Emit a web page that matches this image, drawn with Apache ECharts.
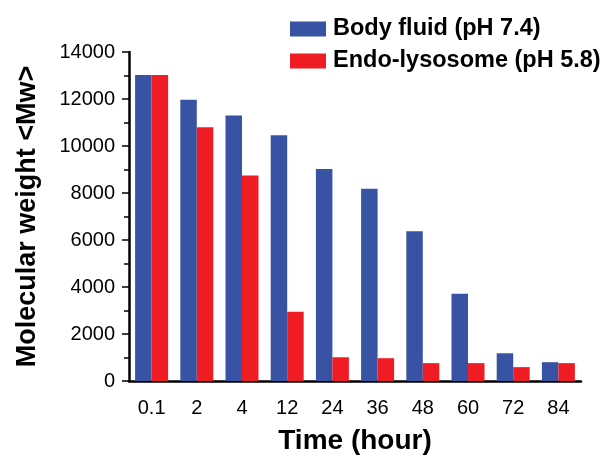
<!DOCTYPE html>
<html>
<head>
<meta charset="utf-8">
<script src="https://cdn.jsdelivr.net/npm/echarts@6/dist/echarts.min.js"></script>
<style>html,body{margin:0;padding:0;background:#fff}#c{width:606px;height:460px}</style>
</head>
<body>
<div id="c"></div>
<script>
var categories = ['0.1','2','4','12','24','36','48','60','72','84'];
var bodyFluid = [13020, 11970, 11300, 10460, 9020, 8180, 6370, 3710, 1180, 800];
var endoLysosome = [13020, 10800, 8740, 2950, 1010, 970, 760, 760, 590, 760];
var seriesNames = ['Body fluid (pH 7.4)', 'Endo-lysosome (pH 5.8)'];
var yTicks = {min: 0, max: 14000, interval: 2000};

var chart = echarts.init(document.getElementById('c'));
var font = 'Liberation Sans, Arial, sans-serif';
chart.setOption({
  animation: false,
  backgroundColor: '#fff',
  legend: {
    orient: 'vertical', left: 285, top: 12,
    itemWidth: 36, itemHeight: 15, itemGap: 8,
    icon: 'rect',
    textStyle: {fontFamily: font, fontWeight: 'bold', fontSize: 23.5, lineHeight: 23, color: '#000', padding: [0,0,0,2]},
    data: seriesNames
  },
  grid: {left: 129, right: 25, top: 52, bottom: 76},
  xAxis: {
    type: 'category', data: categories,
    name: 'Time (hour)', nameLocation: 'middle', nameGap: 46,
    nameTextStyle: {fontFamily: font, fontWeight: 'bold', fontSize: 28, color: '#000'},
    axisLine: {lineStyle: {color: '#000', width: 2.5}},
    axisTick: {alignWithLabel: true, length: 7, lineStyle: {color: '#000', width: 1.5}},
    axisLabel: {fontFamily: font, fontSize: 20, color: '#000', margin: 17}
  },
  yAxis: {
    type: 'value', min: yTicks.min, max: yTicks.max, interval: yTicks.interval,
    name: 'Molecular weight <Mw>', nameLocation: 'middle', nameGap: 88,
    nameTextStyle: {fontFamily: font, fontWeight: 'bold', fontSize: 27, color: '#000'},
    axisLine: {show: true, lineStyle: {color: '#000', width: 2.5}},
    axisTick: {show: true, length: 7, lineStyle: {color: '#000', width: 1.5}},
    minorTick: {show: true, splitNumber: 2, length: 5, lineStyle: {color: '#000', width: 1.5}},
    splitLine: {show: false},
    axisLabel: {fontFamily: font, fontSize: 20, color: '#000', margin: 14, formatter: function (v) { return String(v); }}
  },
  series: [
    {name: seriesNames[0], type: 'bar', data: bodyFluid, barGap: '0%', barCategoryGap: '27%', itemStyle: {color: '#3853A4'}},
    {name: seriesNames[1], type: 'bar', data: endoLysosome, barGap: '0%', barCategoryGap: '27%', itemStyle: {color: '#EF1C24'}}
  ]
});
</script>
</body>
</html>
